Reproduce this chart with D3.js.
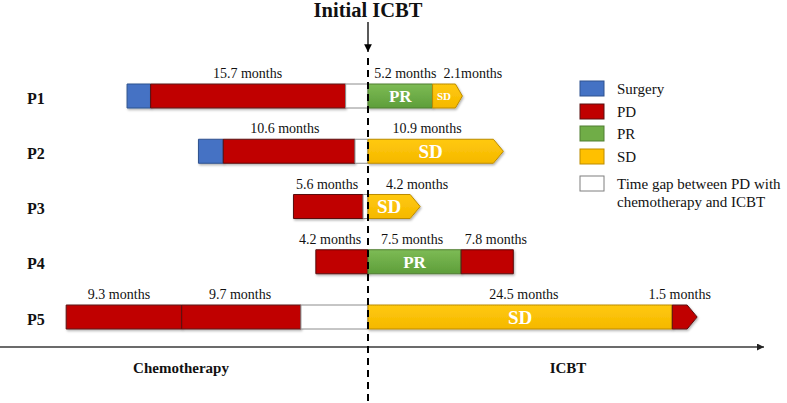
<!DOCTYPE html>
<html>
<head>
<meta charset="utf-8">
<script src="https://cdn.jsdelivr.net/npm/d3@7"></script>
<style>
  html, body { margin: 0; padding: 0; background: #fff; }
  svg { display: block; font-family: "Liberation Serif", "Times New Roman", serif; }
</style>
</head>
<body>
<svg id="chart" width="787" height="403"></svg>
<script>
// ---------- data ----------
const patients = ["P1", "P2", "P3", "P4", "P5"];

// segments before ICBT (left to right, ending at ICBT start), durations in months
const preTypes = [
  ["Surgery", "PD", "Gap"],
  ["Surgery", "PD", "Gap"],
  ["PD", "Gap"],
  ["PD"],
  ["PD", "PD", "Gap"]
];
const preMonths = [
  [1.9, 15.7, 1.8],
  [2.0, 10.6, 1.05],
  [5.6, 0.4],
  [4.2],
  [9.3, 9.6, 5.4]
];

// segments after ICBT start (left to right)
const postTypes = [
  ["PR", "SD"],
  ["SD"],
  ["SD"],
  ["PR", "PD"],
  ["SD", "PD"]
];
const postMonths = [
  [5.2, 2.4],
  [10.9],
  [4.2],
  [7.5, 4.2],
  [24.5, 2.0]
];
const postInner = [
  ["PR", "SD"],
  ["SD"],
  ["SD"],
  ["PR", ""],
  ["SD", ""]
];
const endsWithArrow = [true, true, true, false, true];

// duration labels above bars: text and the month they are centred on
const labelTexts = [
  ["15.7 months", "5.2 months", "2.1months"],
  ["10.6 months", "10.9 months"],
  ["5.6 months", "4.2 months"],
  ["4.2 months", "7.5 months", "7.8 months"],
  ["9.3 months", "9.7 months", "24.5 months", "1.5 months"]
];
const labelAt = [
  [-9.7, 3.0, 8.45],
  [-6.7, 4.75],
  [-3.3, 3.95],
  [-3.05, 3.55, 10.3],
  [-20.05, -10.3, 12.55, 25.1]
];

const legendKeys = ["Surgery", "PD", "PR", "SD", "Gap"];
const legendTexts = [["Surgery"], ["PD"], ["PR"], ["SD"], ["Time gap between PD with", "chemotherapy and ICBT"]];

const title = "Initial ICBT";
const axisLabels = ["Chemotherapy", "ICBT"];

// ---------- drawing ----------
const svg = d3.select("#chart");
const defs = svg.append("defs");

const x = d3.scaleLinear().domain([0, 10]).range([368, 492.2]);
const y = d3.scalePoint().domain(patients).range([96, 317]);
const barH = 24;

const colors = { Surgery: "#4472C4", PD: "#C00000", PR: "#70AD47", SD: "#FFC000", Gap: "#FFFFFF" };
const strokes = { Surgery: "#2F528F", PD: "#5a1010", PR: "#507E32", SD: "#BC8C00", Gap: "#8c8c8c" };

// gradients for PR and SD
function grad(id, c1, c2) {
  const g = defs.append("linearGradient").attr("id", id).attr("x1", 0).attr("y1", 0).attr("x2", 0).attr("y2", 1);
  g.append("stop").attr("offset", "0%").attr("stop-color", c1);
  g.append("stop").attr("offset", "100%").attr("stop-color", c2);
}
grad("gPR", "#7DBB55", "#5E9E3A");
grad("gSD", "#FFC90E", "#F5B800");
const fills = { Surgery: colors.Surgery, PD: colors.PD, PR: "url(#gPR)", SD: "url(#gSD)", Gap: colors.Gap };

const shadow = defs.append("filter").attr("id", "sh").attr("x", "-10%").attr("y", "-30%").attr("width", "130%").attr("height", "180%");
shadow.append("feDropShadow").attr("dx", 1).attr("dy", 1.5).attr("stdDeviation", 0.8).attr("flood-color", "#000").attr("flood-opacity", 0.3);

// arrowhead markers
defs.append("marker").attr("id", "arrowDown").attr("viewBox", "0 0 10 10").attr("refX", 10).attr("refY", 5)
  .attr("markerWidth", 6).attr("markerHeight", 6).attr("orient", "auto")
  .append("path").attr("d", "M0,0 L10,5 L0,10 z").attr("fill", "#000");
defs.append("marker").attr("id", "arrowRight").attr("viewBox", "0 0 10 10").attr("refX", 10).attr("refY", 5)
  .attr("markerWidth", 5).attr("markerHeight", 5).attr("orient", "auto")
  .append("path").attr("d", "M0,0 L10,5 L0,10 z").attr("fill", "#222");

// build segment list
const segs = [];
patients.forEach((p, i) => {
  const total = d3.sum(preMonths[i]);
  let t = -total;
  preTypes[i].forEach((type, j) => {
    segs.push({ p, type, start: t, end: t + preMonths[i][j], inner: "", arrow: false, row: i });
    t += preMonths[i][j];
  });
  t = 0;
  postTypes[i].forEach((type, j) => {
    const last = j === postTypes[i].length - 1;
    segs.push({ p, type, start: t, end: t + postMonths[i][j], inner: postInner[i][j], arrow: last && endsWithArrow[i], row: i });
    t += postMonths[i][j];
  });
});

const barsG = svg.append("g");
segs.forEach(s => {
  const x0 = x(s.start), x1 = x(s.end);
  const yt = y(s.p) - barH / 2, yb = y(s.p) + barH / 2, ym = y(s.p);
  const head = s.arrow ? (s.row === 0 ? 7 : 10) : 0;
  const d = s.arrow
    ? `M${x0},${yt} L${x1 - head},${yt} L${x1},${ym} L${x1 - head},${yb} L${x0},${yb} Z`
    : `M${x0},${yt} L${x1},${yt} L${x1},${yb} L${x0},${yb} Z`;
  barsG.append("path").attr("d", d)
    .attr("fill", fills[s.type])
    .attr("stroke", strokes[s.type])
    .attr("stroke-width", 1)
    .attr("filter", s.type === "Gap" ? null : "url(#sh)");
  if (s.inner) {
    const small = (x1 - head - x0) < 35;
    barsG.append("text")
      .attr("x", (x0 + x1 - head) / 2)
      .attr("y", ym)
      .attr("dy", "0.35em")
      .attr("text-anchor", "middle")
      .attr("fill", "#fff")
      .attr("font-weight", "bold")
      .attr("font-size", small ? 11 : (s.type === "SD" ? 19 : 17))
      .text(s.inner);
  }
});

// duration labels
patients.forEach((p, i) => {
  labelTexts[i].forEach((t, j) => {
    svg.append("text")
      .attr("x", x(labelAt[i][j]))
      .attr("y", y(p) - barH / 2 - 6)
      .attr("text-anchor", "middle")
      .attr("font-size", 14)
      .attr("fill", "#111")
      .text(t);
  });
});

// patient labels
svg.append("g").selectAll("text").data(patients).join("text")
  .attr("x", 27)
  .attr("y", d => y(d) + 2)
  .attr("dy", "0.35em")
  .attr("font-size", 16)
  .attr("font-weight", "bold")
  .attr("fill", "#111")
  .text(d => d);

// title and arrow
svg.append("text").attr("x", 368).attr("y", 17).attr("text-anchor", "middle")
  .attr("font-size", 20.5).attr("font-weight", "bold").attr("fill", "#111").text(title);
svg.append("line").attr("x1", 368).attr("x2", 368).attr("y1", 22).attr("y2", 52)
  .attr("stroke", "#000").attr("stroke-width", 1.3).attr("marker-end", "url(#arrowDown)");

// bottom axis
svg.append("line").attr("x1", 0).attr("x2", 764).attr("y1", 347).attr("y2", 347)
  .attr("stroke", "#3a3a3a").attr("stroke-width", 1.4).attr("marker-end", "url(#arrowRight)");
svg.append("text").attr("x", 181).attr("y", 373).attr("text-anchor", "middle")
  .attr("font-size", 15).attr("font-weight", "bold").attr("fill", "#111").text(axisLabels[0]);
svg.append("text").attr("x", 568).attr("y", 373).attr("text-anchor", "middle")
  .attr("font-size", 15).attr("font-weight", "bold").attr("fill", "#111").text(axisLabels[1]);

// dashed ICBT line
svg.append("line").attr("x1", 368).attr("x2", 368).attr("y1", 58).attr("y2", 403)
  .attr("stroke", "#000").attr("stroke-width", 2).attr("stroke-dasharray", "7,5");

// legend
const legY = d3.scaleOrdinal().domain(legendKeys).range([81, 104, 126, 149, 176]);
const leg = svg.append("g");
legendKeys.forEach((k, i) => {
  leg.append("rect").attr("x", 580).attr("y", legY(k)).attr("width", 24).attr("height", 15)
    .attr("fill", colors[k]).attr("stroke", k === "Gap" ? "#7f7f7f" : strokes[k]).attr("stroke-width", 1);
  legendTexts[i].forEach((t, j) => {
    leg.append("text").attr("x", 617).attr("y", legY(k) + 12.5 + j * 18)
      .attr("font-size", 15).attr("fill", "#111").text(t);
  });
});
</script>
</body>
</html>
